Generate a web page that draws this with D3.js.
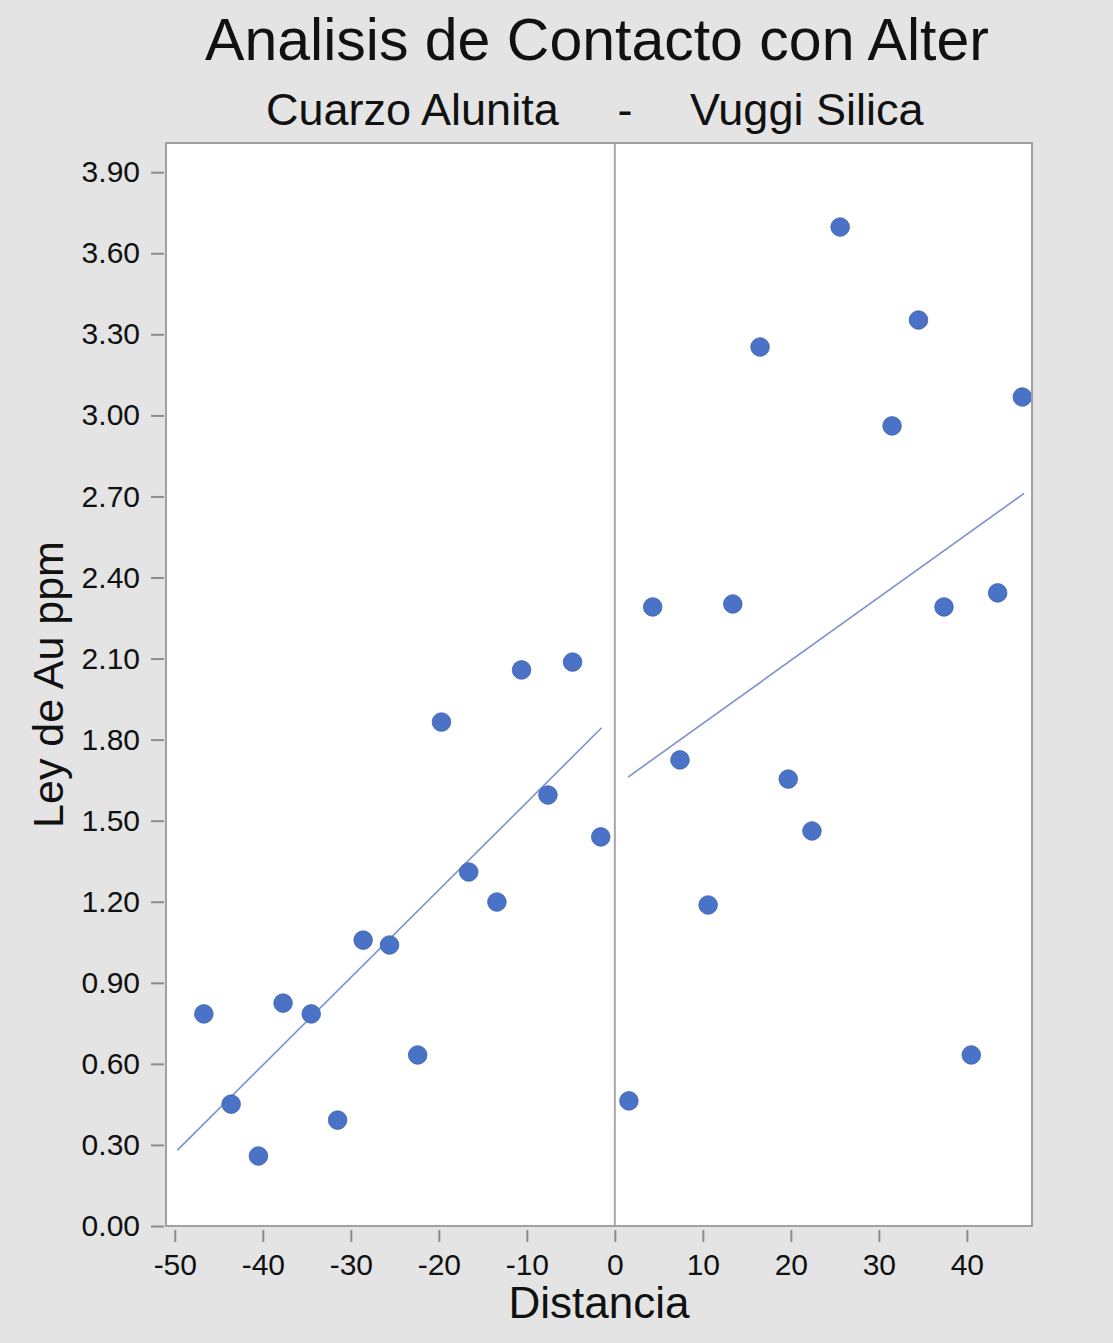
<!DOCTYPE html>
<html>
<head>
<meta charset="utf-8">
<script src="https://cdn.jsdelivr.net/npm/d3@7"></script>
<style>
  html, body { margin: 0; padding: 0; background: #e4e4e4; }
  svg { display: block; }
  text { font-family: "Liberation Sans", Arial, sans-serif; fill: #111; }
</style>
</head>
<body>
<svg id="chart" width="1113" height="1343"></svg>
<script>
// ---- Data ----
const titleText = "Analisis de Contacto con Alter";
const subtitleLeft = "Cuarzo Alunita";
const subtitleSep = "-";
const subtitleRight = "Vuggi Silica";
const xLabel = "Distancia";
const yLabel = "Ley de Au ppm";

// Cuarzo Alunita side (negative distances)
const distLeft = [-46.7, -43.6, -40.5, -37.7, -34.5, -31.5, -28.6, -25.6, -22.4, -19.7, -16.6, -13.4, -10.6, -7.6, -4.8, -1.6];
const auLeft   = [0.785, 0.451, 0.259, 0.825, 0.785, 0.392, 1.058, 1.040, 0.633, 1.865, 1.310, 1.199, 2.058, 1.595, 2.087, 1.440];

// Vuggi Silica side (positive distances)
const distRight = [1.6, 4.3, 7.4, 10.6, 13.4, 16.5, 19.7, 22.4, 25.6, 31.5, 34.5, 37.4, 40.5, 43.5, 46.3];
const auRight   = [0.463, 2.291, 1.725, 1.188, 2.302, 3.253, 1.654, 1.462, 3.697, 2.961, 3.353, 2.291, 0.633, 2.343, 3.068];

// Extent over which each fitted line is drawn
const fitRangeLeft = [-49.7, -1.5];
const fitRangeRight = [1.5, 46.5];

const xTicks = [-50, -40, -30, -20, -10, 0, 10, 20, 30, 40];
const xTickLabels = ["-50", "-40", "-30", "-20", "-10", "0", "10", "20", "30", "40"];
const yTicks = [0, 0.3, 0.6, 0.9, 1.2, 1.5, 1.8, 2.1, 2.4, 2.7, 3.0, 3.3, 3.6, 3.9];
const xDomain = [-51.0, 47.4];
const yDomain = [0, 4.008];

// ---- Layout ----
const plot = { left: 166, right: 1032, top: 143, bottom: 1226 };
const svg = d3.select("#chart");

const x = d3.scaleLinear().domain(xDomain).range([plot.left, plot.right]);
const y = d3.scaleLinear().domain(yDomain).range([plot.bottom, plot.top]);

// plot background
svg.append("rect")
  .attr("x", plot.left).attr("y", plot.top)
  .attr("width", plot.right - plot.left).attr("height", plot.bottom - plot.top)
  .attr("fill", "#ffffff");

// vertical contact line at 0
svg.append("line")
  .attr("x1", x(0)).attr("x2", x(0))
  .attr("y1", plot.top).attr("y2", plot.bottom)
  .attr("stroke", "#a8a8a8").attr("stroke-width", 2);

// regression helper
function linfit(xs, ys) {
  const mx = d3.mean(xs), my = d3.mean(ys);
  let sxy = 0, sxx = 0;
  xs.forEach((v, i) => { sxy += (v - mx) * (ys[i] - my); sxx += (v - mx) * (v - mx); });
  const b = sxy / sxx;
  return { a: my - b * mx, b };
}

const line = d3.line().x(d => x(d[0])).y(d => y(d[1]));
[[distLeft, auLeft, fitRangeLeft], [distRight, auRight, fitRangeRight]].forEach(([xs, ys, rng]) => {
  const f = linfit(xs, ys);
  const pts = rng.map(v => [v, f.a + f.b * v]);
  svg.append("path")
    .attr("d", line(pts))
    .attr("fill", "none")
    .attr("stroke", "#7b92cc")
    .attr("stroke-width", 1.6);
});

// points
const pointsData = distLeft.map((d, i) => [d, auLeft[i]])
  .concat(distRight.map((d, i) => [d, auRight[i]]));
svg.append("g").selectAll("circle")
  .data(pointsData)
  .join("circle")
  .attr("cx", d => x(d[0]))
  .attr("cy", d => y(d[1]))
  .attr("r", 9.3)
  .attr("fill", "#4a72c6")
  .attr("stroke", "#3d62b0")
  .attr("stroke-width", 0.8);

// frame
svg.append("rect")
  .attr("x", plot.left).attr("y", plot.top)
  .attr("width", plot.right - plot.left).attr("height", plot.bottom - plot.top)
  .attr("fill", "none").attr("stroke", "#a0a0a0").attr("stroke-width", 2);

// axes
const xAxis = svg.append("g")
  .attr("transform", `translate(0,${plot.bottom + 4})`)
  .call(d3.axisBottom(x).tickValues(xTicks)
    .tickFormat((d, i) => xTickLabels[i])
    .tickSize(12).tickPadding(12));
const yAxis = svg.append("g")
  .attr("transform", `translate(${plot.left - 2},0)`)
  .call(d3.axisLeft(y).tickValues(yTicks).tickFormat(d3.format(".2f")).tickSize(13).tickPadding(11));

[xAxis, yAxis].forEach(g => {
  g.select(".domain").remove();
  g.selectAll(".tick line").attr("stroke", "#8c8c8c").attr("stroke-width", 2);
  g.selectAll(".tick text")
    .attr("font-size", 30)
    .attr("font-family", "\"Liberation Sans\", Arial, sans-serif")
    .attr("fill", "#1a1a1a");
});

// titles
svg.append("text")
  .attr("x", 597).attr("y", 60)
  .attr("text-anchor", "middle")
  .attr("font-size", 59)
  .text(titleText);

svg.append("text")
  .attr("x", 266).attr("y", 125)
  .attr("font-size", 45)
  .text(subtitleLeft);
svg.append("text")
  .attr("x", 625).attr("y", 125)
  .attr("text-anchor", "middle")
  .attr("font-size", 45)
  .text(subtitleSep);
svg.append("text")
  .attr("x", 690).attr("y", 125)
  .attr("font-size", 45)
  .text(subtitleRight);

svg.append("text")
  .attr("x", (plot.left + plot.right) / 2).attr("y", 1318)
  .attr("text-anchor", "middle")
  .attr("font-size", 44)
  .text(xLabel);

svg.append("text")
  .attr("transform", `translate(63,${(plot.top + plot.bottom) / 2}) rotate(-90)`)
  .attr("text-anchor", "middle")
  .attr("font-size", 43)
  .text(yLabel);
</script>
</body>
</html>
